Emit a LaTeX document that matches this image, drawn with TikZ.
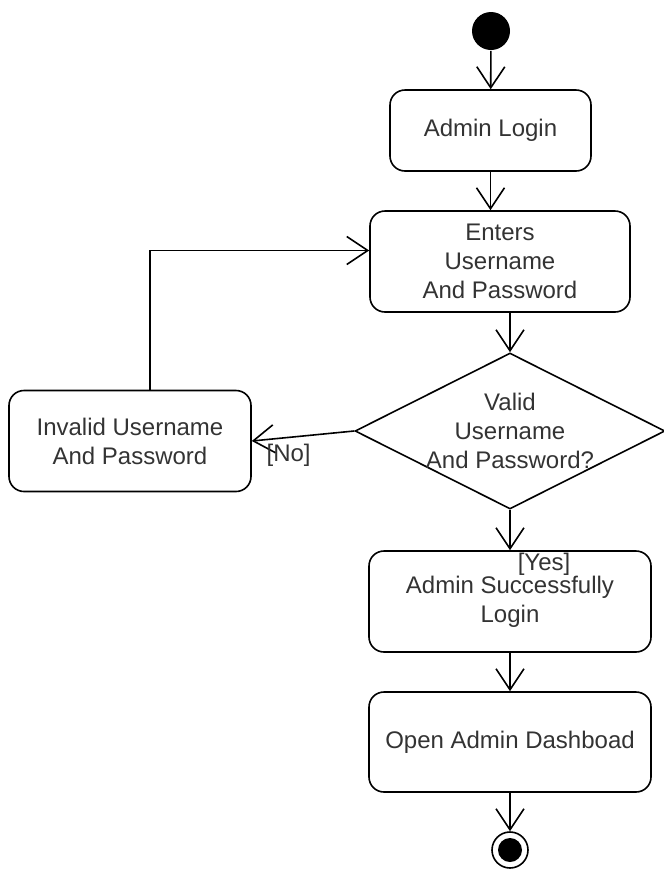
\documentclass[tikz,border=0pt]{standalone}
\usepackage{fontspec}
\setmainfont{Liberation Sans}
\usetikzlibrary{arrows.meta,shapes.geometric}
\tikzset{
  act/.style={draw, rounded corners=15pt, align=center, text=black!80},
  flow/.style={-{Straight Barb[length=21pt,width=28pt,line width=1.6pt]}}
}
\begin{document}
\begin{tikzpicture}[x=1pt, y=-1pt, line width=1.6pt, font=\fontsize{24}{29}\selectfont]
      \useasboundingbox (0,0) rectangle (664,871);
      \node[circle, fill, inner sep=0, minimum size=38pt] (start) at (491,31) {};
      \node[act, minimum width=201pt, minimum height=81pt] (login) at (490.5,130.5) {Admin Login};
      \node[act, minimum width=260pt, minimum height=101pt] (enter) at (500,261.5) {Enters\\Username\\And Password};
      \node[draw, diamond, inner sep=0, minimum width=310pt, minimum height=156pt,
        label={[align=center, text=black!80]center:Valid\\Username\\And Password?}] (valid) at (510,431) {};
      \node[act, minimum width=242pt, minimum height=101pt] (invalid) at (130,441) {Invalid Username\\And Password};
      \node[act, minimum width=282pt, minimum height=101pt] (success) at (510,601.5) {Admin Successfully\\Login};
      \node[act, minimum width=282pt, minimum height=100pt] (dash) at (510,742) {Open Admin Dashboad};
      \node[circle, draw, inner sep=0, minimum size=36pt] (end) at (510,850) {};
      \fill (end) circle (12pt);
      \begin{scope}[flow]
        \draw (start) to (login);
        \draw (login.south) to (login.south |- enter.north);
        \draw (valid.north |- enter.south) to (valid.north);
        \draw (valid.west) to node[pos=1, anchor=north west, inner sep=2pt, xshift=12pt, text=black!80] (no) {[No]} (invalid.east);
        \draw ([xshift=20pt]invalid.north) |- ([yshift=11pt]enter.west);
        \draw (valid.south) to node[pos=1, anchor=north west, inner sep=1pt, xshift=6pt, yshift=-1pt, text=black!80] (yes) {[Yes]} (success.north);
        \draw (success) to (dash);
        \draw (dash) to (end);
      \end{scope}
    \end{tikzpicture}
\end{document}
